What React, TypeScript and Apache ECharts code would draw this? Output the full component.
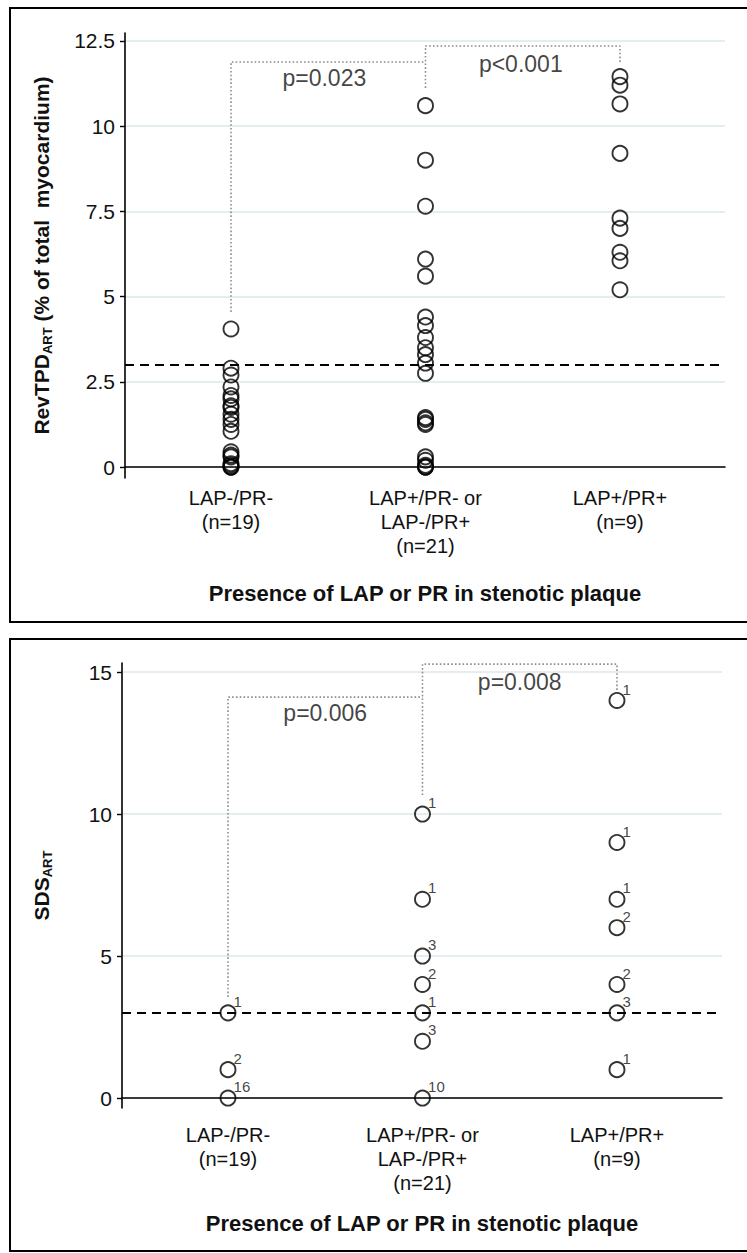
import React, { useEffect, useRef } from "react";
import * as echarts from "echarts";

// ---------- data ----------
const categories = ["LAP-/PR-\n(n=19)", "LAP+/PR- or\nLAP-/PR+\n(n=21)", "LAP+/PR+\n(n=9)"];
const categoryPositions = [1, 2, 3];

// Top panel: RevTPD_ART (% of total myocardium)
const revTpdLapNegPrNeg = [4.05, 2.9, 2.7, 2.35, 2.1, 2.0, 1.8, 1.75, 1.55, 1.4, 1.25, 1.05, 0.45, 0.35, 0.3, 0.1, 0.05, 0, 0];
const revTpdMixed = [10.6, 9.0, 7.65, 6.1, 5.6, 4.4, 4.15, 3.8, 3.5, 3.3, 3.05, 2.75, 1.45, 1.4, 1.3, 1.25, 0.3, 0.2, 0.05, 0, 0];
const revTpdLapPosPrPos = [11.45, 11.2, 10.65, 9.2, 7.3, 7.0, 6.3, 6.05, 5.2];
const revTpdTicks = [0, 2.5, 5, 7.5, 10, 12.5];

// Bottom panel: SDS_ART (value, count)
const sdsLapNegPrNegValues = [3, 1, 0];
const sdsLapNegPrNegCounts = [1, 2, 16];
const sdsMixedValues = [10, 7, 5, 4, 3, 2, 0];
const sdsMixedCounts = [1, 1, 3, 2, 1, 3, 10];
const sdsLapPosPrPosValues = [14, 9, 7, 6, 4, 3, 1];
const sdsLapPosPrPosCounts = [1, 1, 1, 2, 2, 3, 1];
const sdsTicks = [0, 5, 10, 15];

const threshold = 3;

// significance brackets (x = group position, y = value)
const revBracketLeft = [[1, 4.55], [1, 11.88], [2, 11.88]];
const revBracketRight = [[2, 11.12], [2, 12.35], [3, 12.35], [3, 11.85]];
const revPLabels = [
  { pos: [1.48, 11.41], text: "p=0.023" },
  { pos: [2.49, 11.83], text: "p<0.001" },
];
const sdsBracketLeft = [[1, 3.56], [1, 14.12], [2, 14.12]];
const sdsBracketRight = [[2, 10.67], [2, 15.28], [3, 15.28], [3, 14.37]];
const sdsPLabels = [
  { pos: [1.5, 13.56], text: "p=0.006" },
  { pos: [2.5, 14.65], text: "p=0.008" },
];

const xTitle = "Presence of LAP or PR in stenotic plaque";

// ---------- styling ----------
const FONT = "'Liberation Sans', Arial, Helvetica, sans-serif";
const TXT = "#111111";

function xAxisFor(gridIndex: number, labelMargin: number) {
  return {
    type: "value",
    gridIndex,
    min: 0.455,
    max: 3.54,
    axisLine: { show: true, lineStyle: { color: "#000", width: 1.6 } },
    axisTick: { show: false },
    splitLine: { show: false },
    axisLabel: {
      customValues: categoryPositions,
      formatter: (v: number) => categories[Math.round(v) - 1] ?? "",
      fontSize: 20,
      lineHeight: 24,
      color: TXT,
      fontFamily: FONT,
      margin: labelMargin,
    },
    name: xTitle,
    nameLocation: "middle",
    nameGap: 104,
    nameTextStyle: { fontSize: 22, fontWeight: "bold", color: TXT, fontFamily: FONT },
  };
}

function yAxisFor(gridIndex: number, min: number, max: number, ticks: number[], nameRich: string, nameGap: number) {
  return {
    type: "value",
    gridIndex,
    min,
    max,
    axisLine: { show: true, lineStyle: { color: "#000", width: 1.6 } },
    axisTick: { show: true, customValues: ticks, length: 5, lineStyle: { color: "#000", width: 1.4 } },
    splitLine: { show: true, lineStyle: { color: "#e4edf0", width: 2 } },
    axisLabel: {
      customValues: ticks,
      formatter: (v: number) => String(v),
      fontSize: 21,
      color: TXT,
      fontFamily: FONT,
      margin: 10,
    },
    name: nameRich,
    nameLocation: "middle",
    nameGap,
    nameTextStyle: {
      color: TXT,
      fontFamily: FONT,
      rich: {
        b: { fontSize: 21, fontWeight: "bold", lineHeight: 26, color: TXT, fontFamily: FONT },
        s: { fontSize: 13, fontWeight: "bold", lineHeight: 16, verticalAlign: "bottom", color: TXT, fontFamily: FONT },
      },
    },
  };
}

const circleStyle = { color: "rgba(0,0,0,0)", borderColor: "#000", borderWidth: 1.9 };
const bracketLine = { color: "#8c8c8c", width: 1.6, type: [1.6, 2.2] };
const dashedMark = {
  silent: true,
  symbol: ["none", "none"],
  label: { show: false },
  lineStyle: { color: "#000", width: 2, type: [9, 6] },
  data: [{ yAxis: threshold }],
};

function pLabelSeries(items: { pos: number[]; text: string }[], gi: number) {
  return {
    type: "scatter",
    xAxisIndex: gi,
    yAxisIndex: gi,
    symbolSize: 1,
    itemStyle: { color: "rgba(0,0,0,0)" },
    silent: true,
    data: items.map((d) => ({ value: d.pos, name: d.text })),
    label: {
      show: true,
      position: "inside",
      formatter: (p: any) => p.name,
      fontSize: 23,
      color: TXT,
      fontFamily: FONT,
    },
    z: 5,
  };
}

function bracketSeries(points: number[][], gi: number) {
  return {
    type: "line",
    xAxisIndex: gi,
    yAxisIndex: gi,
    data: points,
    symbol: "none",
    silent: true,
    lineStyle: bracketLine,
    z: 1,
  };
}

export default function App() {
  const ref = useRef<HTMLDivElement>(null);

  useEffect(() => {
    if (!ref.current) return;
    const chart = echarts.init(ref.current, undefined, { renderer: "svg" });

    const revData = [
      ...revTpdLapNegPrNeg.map((v) => [1, v]),
      ...revTpdMixed.map((v) => [2, v]),
      ...revTpdLapPosPrPos.map((v) => [3, v]),
    ];
    const sdsData = [
      ...sdsLapNegPrNegValues.map((v, i) => [1, v, sdsLapNegPrNegCounts[i]]),
      ...sdsMixedValues.map((v, i) => [2, v, sdsMixedCounts[i]]),
      ...sdsLapPosPrPosValues.map((v, i) => [3, v, sdsLapPosPrPosCounts[i]]),
    ];

    const option: any = {
      animation: false,
      backgroundColor: "#ffffff",
      textStyle: { fontFamily: FONT },
      graphic: [
        {
          type: "rect",
          silent: true,
          z: -10,
          shape: { x: 10, y: 8, width: 760, height: 614 },
          style: { fill: "none", stroke: "#000", lineWidth: 2 },
        },
        {
          type: "rect",
          silent: true,
          z: -10,
          shape: { x: 10, y: 639, width: 760, height: 612 },
          style: { fill: "none", stroke: "#000", lineWidth: 2 },
        },
      ],
      grid: [
        { left: 125, top: 33, width: 600, height: 445 },
        { left: 122, top: 663, width: 600, height: 445 },
      ],
      xAxis: [xAxisFor(0, 8), xAxisFor(1, 15)],
      yAxis: [
        yAxisFor(0, -0.32, 12.73, revTpdTicks, "{b|RevTPD}{s|ART}{b| (% of total  myocardium)}", 71),
        yAxisFor(1, -0.35, 15.32, sdsTicks, "{b|SDS}{s|ART}", 68),
      ],
      series: [
        bracketSeries(revBracketLeft, 0),
        bracketSeries(revBracketRight, 0),
        {
          type: "scatter",
          xAxisIndex: 0,
          yAxisIndex: 0,
          data: revData,
          symbol: "circle",
          symbolSize: 15,
          itemStyle: circleStyle,
          markLine: dashedMark,
          z: 3,
        },
        pLabelSeries(revPLabels, 0),
        bracketSeries(sdsBracketLeft, 1),
        bracketSeries(sdsBracketRight, 1),
        {
          type: "scatter",
          xAxisIndex: 1,
          yAxisIndex: 1,
          data: sdsData,
          symbol: "circle",
          symbolSize: 15,
          itemStyle: circleStyle,
          markLine: dashedMark,
          label: {
            show: true,
            position: [14, -3],
            align: "left",
            verticalAlign: "middle",
            formatter: (p: any) => String(p.value[2]),
            fontSize: 15,
            color: TXT,
            fontFamily: FONT,
          },
          z: 3,
        },
        pLabelSeries(sdsPLabels, 1),
      ],
    };

    chart.setOption(option);
    return () => chart.dispose();
  }, []);

  return (
    <div
      ref={ref}
      style={{ position: "absolute", left: 0, top: 0, width: 747, height: 1253, background: "#fff" }}
    />
  );
}
